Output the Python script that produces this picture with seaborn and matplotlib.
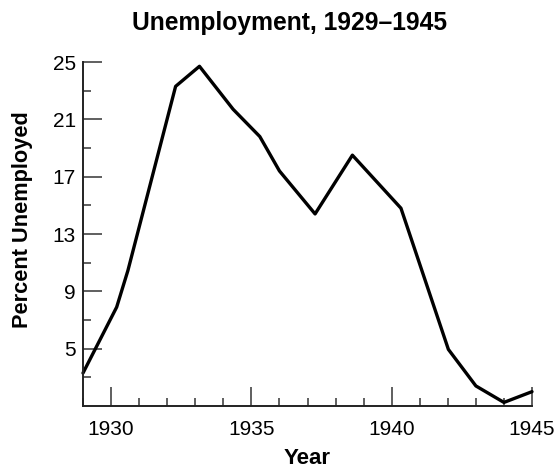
import matplotlib
matplotlib.use("Agg")
import matplotlib.pyplot as plt
from matplotlib.ticker import MultipleLocator, FixedLocator
import seaborn as sns
import pandas as pd

# Data
years = [1929.0, 1930.2, 1930.6, 1932.3, 1933.15, 1934.35, 1935.3, 1936.0,
         1937.27, 1938.6, 1940.33, 1942.02, 1943.0, 1944.0, 1945.0]
rates = [3.3, 7.9, 10.45, 23.3, 24.7, 21.7, 19.8, 17.4,
         14.4, 18.5, 14.8, 4.95, 2.4, 1.25, 2.0]
x_major = [1930, 1935, 1940, 1945]
y_major = [5, 9, 13, 17, 21, 25]
y_minor = [3, 7, 11, 15, 19, 23]

title = "Unemployment, 1929\u20131945"
xlabel = "Year"
ylabel = "Percent Unemployed"

sns.set_style("ticks")
plt.rcParams['font.family'] = ['Liberation Sans', 'DejaVu Sans']
plt.rcParams['text.color'] = 'black'
plt.rcParams['axes.labelcolor'] = 'black'
plt.rcParams['xtick.labelcolor'] = 'black'
plt.rcParams['ytick.labelcolor'] = 'black'

df = pd.DataFrame({"year": years, "rate": rates})

fig = plt.figure(figsize=(5.56, 4.68), dpi=100)
ax = fig.add_axes([83/556, 1 - 406/468, (532 - 83)/556, (406 - 62)/468])

sns.lineplot(data=df, x="year", y="rate", sort=False, ax=ax,
             color="black", linewidth=2.4, clip_on=False)

ax.set_xlim(1929, 1945)
ax.set_ylim(1, 25)
ax.xaxis.set_major_locator(FixedLocator(x_major))
ax.xaxis.set_minor_locator(MultipleLocator(1))
ax.yaxis.set_major_locator(FixedLocator(y_major))
ax.yaxis.set_minor_locator(FixedLocator(y_minor))

for s in ["top", "right"]:
    ax.spines[s].set_visible(False)
for s in ["left", "bottom"]:
    ax.spines[s].set_linewidth(1.4)
    ax.spines[s].set_color("#222222")

ax.tick_params(which="major", direction="in", length=13.5, width=1.2,
               color="#444444", labelsize=15, labelcolor="black")
ax.tick_params(which="minor", direction="in", length=6, width=1.2,
               color="#444444")
ax.tick_params(axis="x", which="major", pad=10)
ax.tick_params(axis="y", which="major", pad=5)

ax.set_xlabel(xlabel, fontsize=16, fontweight="bold", color="black")
ax.set_ylabel(ylabel, fontsize=15.7, fontweight="bold", color="black")
ax.xaxis.set_label_coords(0.5, -0.121)
ax.yaxis.set_label_coords(-0.111, 0.541)

fig.text(290/556, 1 - 30/468, title, ha="center", va="baseline",
         fontsize=17.7, fontweight="bold", color="black")

fig.savefig("out.png", dpi=100)
